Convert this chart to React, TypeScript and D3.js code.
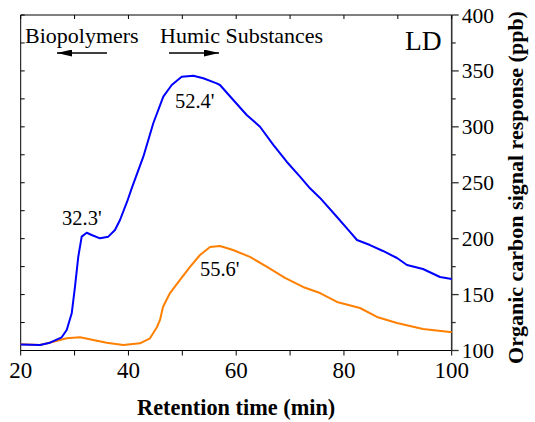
import React from "react";
import * as d3 from "d3";

// Retention time (min) / organic carbon signal (ppb) for the two traces
const blueTime = [20, 23.58, 25.44, 27.61, 28.54, 29.47, 30.08, 30.69, 31.32, 32.25, 33.18, 34.72, 36.26, 37.5, 38.43, 39.73, 40.6, 42.76, 44.61, 46.47, 48.03, 49.88, 52.04, 53.89, 56.38, 56.99, 59.46, 61.95, 64.42, 66.89, 69.37, 71.84, 73.7, 75.56, 78.71, 81.12, 82.42, 84.83, 87.25, 89.85, 91.7, 94.67, 97.83, 100];
const blueValue = [105.4, 104.9, 107.0, 111.8, 118.3, 133.3, 157.1, 183.9, 201.8, 205.3, 203.3, 200.3, 201.8, 207.8, 216.7, 232.8, 245.0, 273.3, 303.2, 327.0, 337.4, 344.8, 345.7, 343.4, 338.9, 337.4, 324.0, 310.6, 300.1, 283.8, 268.8, 255.4, 245.0, 236.4, 219.4, 206.0, 198.8, 194.3, 189.0, 182.7, 176.5, 172.9, 165.7, 163.9];

const orangeTime = [20, 23.58, 26.05, 28.54, 31.01, 33.48, 35.96, 39.04, 42.14, 44.0, 45.3, 45.86, 46.41, 47.71, 49.57, 51.43, 53.28, 55.14, 56.99, 59.41, 62.56, 65.72, 69.06, 72.4, 75.56, 78.71, 82.98, 86.13, 89.85, 94.67, 99.68, 100];
const orangeValue = [105.5, 104.9, 107.9, 110.9, 111.8, 109.4, 107.0, 104.9, 106.4, 110.9, 121.0, 127.3, 138.9, 151.4, 163.1, 174.7, 185.4, 192.6, 193.5, 189.9, 183.7, 174.7, 164.9, 156.8, 151.4, 143.4, 138.0, 130.0, 124.6, 119.2, 116.5, 116.5];

const xTicks = [20, 40, 60, 80, 100];
const xMinorTicks = [30, 50, 70, 90];
const yTicks = [100, 150, 200, 250, 300, 350, 400];
const yMinorTicks = [125, 175, 225, 275, 325, 375];

// Peak labels: [time, signal, text]
const peakLabels: [number, number, string][] = [
  [27.67, 212.2, "32.3'"],
  [48.64, 316.8, "52.4'"],
  [53.28, 166.6, "55.6'"],
];

const regionLabels: [number, number, string][] = [
  [20.8, 375, "Biopolymers"],
  [45.86, 375, "Humic Substances"],
];

// Arrows: [from time, to time, signal level]
const arrows: [number, number, number][] = [
  [36.02, 26.74, 366],
  [47.53, 56.81, 366],
];

const W = 535;
const H = 422;
const left = 20.7;
const right = 451.7;
const top = 15;
const bottom = 350.5;

export default function App() {
  const x = d3.scaleLinear().domain([20, 100]).range([left, right]);
  const y = d3.scaleLinear().domain([100, 400]).range([bottom, top]);

  const line = d3
    .line<[number, number]>()
    .x((d) => x(d[0]))
    .y((d) => y(d[1]));

  const blue = line(blueTime.map((t, i) => [t, blueValue[i]]) as [number, number][]) || "";
  const orange = line(orangeTime.map((t, i) => [t, orangeValue[i]]) as [number, number][]) || "";

  const font = "'Liberation Serif', 'Times New Roman', serif";

  return (
    <div style={{ position: "absolute", left: 0, top: 0 }}>
      <svg width={W} height={H} style={{ display: "block", background: "#fff" }} fontFamily={font}>
        <defs>
          <marker id="ah" viewBox="0 0 15 7" refX="15" refY="3.5" markerWidth="15" markerHeight="7" markerUnits="userSpaceOnUse" orient="auto">
            <path d="M0,0 L15,3.5 L0,7 Z" fill="#000" />
          </marker>
        </defs>

        {/* frame */}
        <line x1={left} x2={right} y1={top} y2={top} stroke="#000" strokeWidth={1} />
        <line x1={left} x2={left} y1={top} y2={bottom} stroke="#000" strokeWidth={1} />
        <line x1={left} x2={right} y1={bottom} y2={bottom} stroke="#000" strokeWidth={1} />
        <line x1={right} x2={right} y1={top} y2={bottom} stroke="#333" strokeWidth={1.6} />

        {/* top inner ticks */}
        {[...xTicks, ...xMinorTicks].map((t) => (
          <line key={"tt" + t} x1={x(t)} x2={x(t)} y1={top} y2={top + 4} stroke="#000" />
        ))}
        {/* left inner ticks */}
        {[...yTicks, ...yMinorTicks].map((v) => (
          <line key={"lt" + v} x1={left} x2={left + 4} y1={y(v)} y2={y(v)} stroke="#000" />
        ))}
        {/* bottom ticks */}
        {[...xTicks, ...xMinorTicks].map((t) => (
          <line key={"bt" + t} x1={x(t)} x2={x(t)} y1={bottom} y2={bottom + 5} stroke="#000" />
        ))}
        {xTicks.map((t) => (
          <text key={"bl" + t} x={x(t)} y={378.3} fontSize={23} textAnchor="middle" fill="#000">
            {t}
          </text>
        ))}
        {/* right ticks */}
        {yTicks.map((v) => (
          <line key={"rt" + v} x1={right} x2={right + 7} y1={y(v)} y2={y(v)} stroke="#333" strokeWidth={1.3} />
        ))}
        {yMinorTicks.map((v) => (
          <line key={"rm" + v} x1={right} x2={right + 4} y1={y(v)} y2={y(v)} stroke="#333" strokeWidth={1.3} />
        ))}
        {yTicks.map((v) => (
          <text key={"rl" + v} x={right + 10} y={y(v) + 7.5} fontSize={21.5} textAnchor="start" fill="#000">
            {v}
          </text>
        ))}

        {/* traces */}
        <path d={orange} fill="none" stroke="#ff8000" strokeWidth={2} strokeLinejoin="round" />
        <path d={blue} fill="none" stroke="#0000ff" strokeWidth={2} strokeLinejoin="round" />

        {/* annotations */}
        {regionLabels.map(([t, v, s]) => (
          <text key={s} x={x(t)} y={y(v)} fontSize={22} fill="#000">
            {s}
          </text>
        ))}
        {arrows.map(([a, b, v], i) => (
          <line key={"ar" + i} x1={x(a)} x2={x(b)} y1={y(v)} y2={y(v)} stroke="#000" strokeWidth={1.3} markerEnd="url(#ah)" />
        ))}
        {peakLabels.map(([t, v, s]) => (
          <text key={s} x={x(t)} y={y(v)} fontSize={20.5} fill="#000">
            {s}
          </text>
        ))}
        <text x={x(91.33)} y={y(368.7)} fontSize={27.5} fill="#000">
          LD
        </text>

        {/* axis titles */}
        <text x={(left + right) / 2} y={415} fontSize={22.3} fontWeight="bold" textAnchor="middle" fill="#000">
          Retention time (min)
        </text>
        <text
          transform={`translate(523, 187.5) rotate(-90)`}
          fontSize={22}
          fontWeight="bold"
          textAnchor="middle"
          fill="#000"
        >
          Organic carbon signal response (ppb)
        </text>
      </svg>
    </div>
  );
}
